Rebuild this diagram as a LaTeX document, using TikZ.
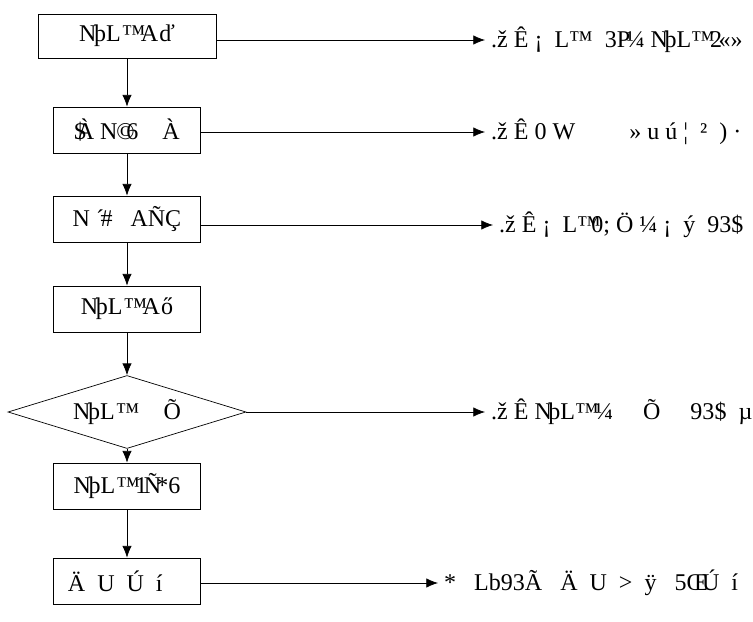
\documentclass[tikz,border=0pt]{standalone}
\usepackage{fontspec}
\setmainfont{Liberation Serif}
\usetikzlibrary{arrows.meta, shapes.geometric}

\tikzset{
  stepbox/.style={draw, rectangle, minimum width=4.41cm, minimum height=1.38cm, inner sep=0pt},
  testbox/.style={draw, diamond, aspect=3.2, minimum width=7.14cm, minimum height=2.19cm, inner sep=0pt},
  flow/.style={-{Latex[length=10pt,width=8pt]}},
  outtext/.style={anchor=west, inner sep=0pt}
}

\begin{document}
\begin{tikzpicture}[x=0.03cm, y=-0.03cm, line width=0.6pt, font=\fontsize{20.5}{23}\selectfont]
\useasboundingbox (0,0) rectangle (753,622);

\node [stepbox, minimum width=5.34cm, minimum height=1.32cm] (start) at (127,36) {N\kern-2pt þL\kern1pt ™\kern-4pt A\kern1pt ď};
\node [stepbox] (two) at (127,130) {\$\kern-8pt À N\kern-1pt ©\kern-7pt 6\ \ \ \ À};
\node [stepbox] (three) at (127,219) {N\ ´\kern-3pt\#\ \ \ AÑÇ};
\node [stepbox] (four) at (127,309) {N\kern-2pt þL\kern1pt ™\kern-4pt A\kern1pt ő};
\node [testbox] (test) at (127,412) {N\kern-2pt þL\kern1pt ™\ \ \ \ Õ};
\node [stepbox] (six) at (127,486) {N\kern-2pt þL\kern1pt ™\kern-4pt 1\kern-3pt Ñ\kern-4pt *6};
\node [stepbox] (seven) at (127,581) {Ä\ \ U\ \ Ú\ \ í\kern20pt};

\coordinate (tipa) at (485,40);
\coordinate (tipb) at (485,132);
\coordinate (tipc) at (493,225);
\coordinate (tipe) at (485,412);
\coordinate (tipg) at (438,583);

\draw [flow] (start) -- (two);
\draw [flow] (two) -- (three);
\draw [flow] (three) -- (four);
\draw [flow] (four) -- (test);
\draw [flow] (test) -- (six);
\draw [flow] (six) -- (seven);

\draw [flow] (start.east |- tipa) -- (tipa) node [outtext, right=5pt] {.ž Ê ¡ \ L™ \ 3P\kern-3pt ¼ N\kern-3pt þL™\kern-4pt 2\kern-3pt «»};
\draw [flow] (two.east |- tipb) -- (tipb) node [outtext, right=5pt] {.ž Ê 0 W \qquad » u ú ¦ \ ² \ ) ·};
\draw [flow] (three.east |- tipc) -- (tipc) node [outtext, right=5pt] {.ž Ê ¡ \ L™\kern-8pt 0; Ö ¼ ¡ \ ý \ 93\$};
\draw [flow] (test.east) -- (tipe) node [outtext, right=5pt] {.ž Ê N\kern-3pt þL™\kern-3pt ¼ \quad Õ \quad 93\$ \ µ};
\draw [flow] (seven.east |- tipg) -- (tipg) node [outtext, right=5pt] {* \ \ Lb93Ã \ \ Ä \ U \ > \ ÿ \ \ 5Œ\kern-5pt Ú \ í};

\end{tikzpicture}
\end{document}
